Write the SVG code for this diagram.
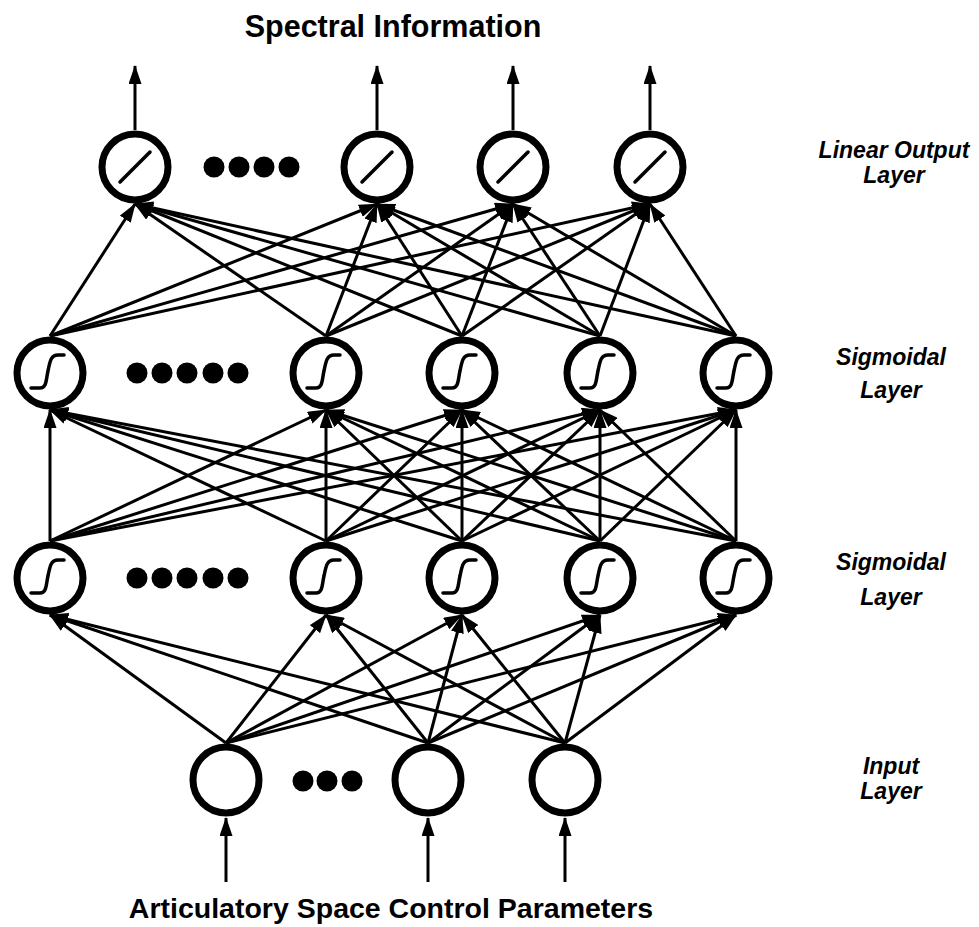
<svg xmlns="http://www.w3.org/2000/svg" width="979" height="927" viewBox="0 0 979 927">
  <style>
    .node { fill: #fff; stroke: #000; stroke-width: 7; }
    .glyph { fill: none; stroke: #000; stroke-width: 3.5; stroke-linecap: round; stroke-linejoin: round; }
    .dot { fill: #000; }
    .edge { stroke: #000; stroke-width: 3; fill: none; marker-end: url(#ah); }
    .title { font-family: "Liberation Sans", Arial, Helvetica, sans-serif; font-weight: bold; fill: #000; text-anchor: middle; }
    .layer { font-family: "Liberation Sans", Arial, Helvetica, sans-serif; font-weight: bold; font-style: italic; font-size: 23px; fill: #000; text-anchor: middle; }
  </style>
  <defs>
    <marker id="ah" markerWidth="19" markerHeight="13" refX="18" refY="6.5" orient="auto" markerUnits="userSpaceOnUse">
      <path d="M0,0 L19,6.5 L0,13 z" fill="#000"/>
    </marker>
    <!-- sigmoid transfer curve -->
    <path id="sig" class="glyph" d="M-19,15 L-10,15 C-3,15 -4,6 -2,-2 C0,-12 1,-18 8,-18 L14,-18"/>
    <!-- linear transfer line -->
    <path id="lin" class="glyph" d="M-15,15 L15,-15"/>
  </defs>

  <rect width="979" height="927" fill="#fff"/>

  <!-- captions -->
  <text class="title" x="393" y="37" font-size="30.5">Spectral Information</text>
  <text class="title" x="391" y="918" font-size="28.5">Articulatory Space Control Parameters</text>

  <g id="layer-labels">
    <text class="layer" x="894" y="158">Linear Output</text>
    <text class="layer" x="894" y="183">Layer</text>
    <text class="layer" x="891" y="365">Sigmoidal</text>
    <text class="layer" x="891" y="398">Layer</text>
    <text class="layer" x="891" y="570">Sigmoidal</text>
    <text class="layer" x="891" y="605">Layer</text>
    <text class="layer" x="891" y="774">Input</text>
    <text class="layer" x="891" y="799">Layer</text>
  </g>

  <!-- connectors -->
  <g id="connectors">
    <!-- outputs leaving the linear layer -->
    <line class="edge" x1="135" y1="130" x2="135" y2="66"/>
    <line class="edge" x1="377" y1="130" x2="377" y2="66"/>
    <line class="edge" x1="513" y1="130" x2="513" y2="66"/>
    <line class="edge" x1="650" y1="130" x2="650" y2="66"/>

    <!-- upper sigmoidal layer to linear output layer -->
    <line class="edge" x1="50" y1="336" x2="135" y2="204"/>
    <line class="edge" x1="50" y1="336" x2="377" y2="204"/>
    <line class="edge" x1="50" y1="336" x2="513" y2="204"/>
    <line class="edge" x1="50" y1="336" x2="650" y2="204"/>
    <line class="edge" x1="326" y1="336" x2="135" y2="204"/>
    <line class="edge" x1="326" y1="336" x2="377" y2="204"/>
    <line class="edge" x1="326" y1="336" x2="513" y2="204"/>
    <line class="edge" x1="326" y1="336" x2="650" y2="204"/>
    <line class="edge" x1="462" y1="336" x2="135" y2="204"/>
    <line class="edge" x1="462" y1="336" x2="377" y2="204"/>
    <line class="edge" x1="462" y1="336" x2="513" y2="204"/>
    <line class="edge" x1="462" y1="336" x2="650" y2="204"/>
    <line class="edge" x1="600" y1="336" x2="135" y2="204"/>
    <line class="edge" x1="600" y1="336" x2="377" y2="204"/>
    <line class="edge" x1="600" y1="336" x2="513" y2="204"/>
    <line class="edge" x1="600" y1="336" x2="650" y2="204"/>
    <line class="edge" x1="736" y1="336" x2="135" y2="204"/>
    <line class="edge" x1="736" y1="336" x2="377" y2="204"/>
    <line class="edge" x1="736" y1="336" x2="513" y2="204"/>
    <line class="edge" x1="736" y1="336" x2="650" y2="204"/>

    <!-- lower sigmoidal layer to upper sigmoidal layer -->
    <line class="edge" x1="50" y1="541" x2="50" y2="410"/>
    <line class="edge" x1="50" y1="541" x2="326" y2="410"/>
    <line class="edge" x1="50" y1="541" x2="462" y2="410"/>
    <line class="edge" x1="50" y1="541" x2="600" y2="410"/>
    <line class="edge" x1="50" y1="541" x2="736" y2="410"/>
    <line class="edge" x1="326" y1="541" x2="50" y2="410"/>
    <line class="edge" x1="326" y1="541" x2="326" y2="410"/>
    <line class="edge" x1="326" y1="541" x2="462" y2="410"/>
    <line class="edge" x1="326" y1="541" x2="600" y2="410"/>
    <line class="edge" x1="326" y1="541" x2="736" y2="410"/>
    <line class="edge" x1="462" y1="541" x2="50" y2="410"/>
    <line class="edge" x1="462" y1="541" x2="326" y2="410"/>
    <line class="edge" x1="462" y1="541" x2="462" y2="410"/>
    <line class="edge" x1="462" y1="541" x2="600" y2="410"/>
    <line class="edge" x1="462" y1="541" x2="736" y2="410"/>
    <line class="edge" x1="600" y1="541" x2="50" y2="410"/>
    <line class="edge" x1="600" y1="541" x2="326" y2="410"/>
    <line class="edge" x1="600" y1="541" x2="462" y2="410"/>
    <line class="edge" x1="600" y1="541" x2="600" y2="410"/>
    <line class="edge" x1="600" y1="541" x2="736" y2="410"/>
    <line class="edge" x1="736" y1="541" x2="50" y2="410"/>
    <line class="edge" x1="736" y1="541" x2="326" y2="410"/>
    <line class="edge" x1="736" y1="541" x2="462" y2="410"/>
    <line class="edge" x1="736" y1="541" x2="600" y2="410"/>
    <line class="edge" x1="736" y1="541" x2="736" y2="410"/>

    <!-- input layer to lower sigmoidal layer -->
    <line class="edge" x1="226" y1="743" x2="50" y2="615"/>
    <line class="edge" x1="226" y1="743" x2="326" y2="615"/>
    <line class="edge" x1="226" y1="743" x2="462" y2="615"/>
    <line class="edge" x1="226" y1="743" x2="600" y2="615"/>
    <line class="edge" x1="226" y1="743" x2="736" y2="615"/>
    <line class="edge" x1="428" y1="743" x2="50" y2="615"/>
    <line class="edge" x1="428" y1="743" x2="326" y2="615"/>
    <line class="edge" x1="428" y1="743" x2="462" y2="615"/>
    <line class="edge" x1="428" y1="743" x2="600" y2="615"/>
    <line class="edge" x1="428" y1="743" x2="736" y2="615"/>
    <line class="edge" x1="565" y1="743" x2="50" y2="615"/>
    <line class="edge" x1="565" y1="743" x2="326" y2="615"/>
    <line class="edge" x1="565" y1="743" x2="462" y2="615"/>
    <line class="edge" x1="565" y1="743" x2="600" y2="615"/>
    <line class="edge" x1="565" y1="743" x2="736" y2="615"/>

    <!-- external inputs -->
    <line class="edge" x1="226" y1="882" x2="226" y2="818"/>
    <line class="edge" x1="428" y1="882" x2="428" y2="818"/>
    <line class="edge" x1="565" y1="882" x2="565" y2="818"/>
  </g>

  <!-- linear output layer -->
  <g id="out1"><circle class="node" cx="135" cy="167" r="33"/><use href="#lin" x="135" y="167"/></g>
  <g id="out-dots">
    <circle class="dot" cx="214" cy="167" r="10.5"/>
    <circle class="dot" cx="239" cy="167" r="10.5"/>
    <circle class="dot" cx="264" cy="167" r="10.5"/>
    <circle class="dot" cx="289" cy="167" r="10.5"/>
  </g>
  <g id="out2"><circle class="node" cx="377" cy="167" r="33"/><use href="#lin" x="377" y="167"/></g>
  <g id="out3"><circle class="node" cx="513" cy="167" r="33"/><use href="#lin" x="513" y="167"/></g>
  <g id="out4"><circle class="node" cx="650" cy="167" r="33"/><use href="#lin" x="650" y="167"/></g>

  <!-- upper sigmoidal layer -->
  <g id="h1-1"><circle class="node" cx="50" cy="373" r="33"/><use href="#sig" x="50" y="373"/></g>
  <g id="h1-dots">
    <circle class="dot" cx="137" cy="373" r="10.5"/>
    <circle class="dot" cx="162" cy="373" r="10.5"/>
    <circle class="dot" cx="187" cy="373" r="10.5"/>
    <circle class="dot" cx="213" cy="373" r="10.5"/>
    <circle class="dot" cx="238" cy="373" r="10.5"/>
  </g>
  <g id="h1-2"><circle class="node" cx="326" cy="373" r="33"/><use href="#sig" x="326" y="373"/></g>
  <g id="h1-3"><circle class="node" cx="462" cy="373" r="33"/><use href="#sig" x="462" y="373"/></g>
  <g id="h1-4"><circle class="node" cx="600" cy="373" r="33"/><use href="#sig" x="600" y="373"/></g>
  <g id="h1-5"><circle class="node" cx="736" cy="373" r="33"/><use href="#sig" x="736" y="373"/></g>

  <!-- lower sigmoidal layer -->
  <g id="h2-1"><circle class="node" cx="50" cy="578" r="33"/><use href="#sig" x="50" y="578"/></g>
  <g id="h2-dots">
    <circle class="dot" cx="137" cy="578" r="10.5"/>
    <circle class="dot" cx="162" cy="578" r="10.5"/>
    <circle class="dot" cx="187" cy="578" r="10.5"/>
    <circle class="dot" cx="213" cy="578" r="10.5"/>
    <circle class="dot" cx="238" cy="578" r="10.5"/>
  </g>
  <g id="h2-2"><circle class="node" cx="326" cy="578" r="33"/><use href="#sig" x="326" y="578"/></g>
  <g id="h2-3"><circle class="node" cx="462" cy="578" r="33"/><use href="#sig" x="462" y="578"/></g>
  <g id="h2-4"><circle class="node" cx="600" cy="578" r="33"/><use href="#sig" x="600" y="578"/></g>
  <g id="h2-5"><circle class="node" cx="736" cy="578" r="33"/><use href="#sig" x="736" y="578"/></g>

  <!-- input layer -->
  <g id="in1"><circle class="node" cx="226" cy="780" r="33"/></g>
  <g id="in-dots">
    <circle class="dot" cx="303" cy="781" r="10.5"/>
    <circle class="dot" cx="327" cy="781" r="10.5"/>
    <circle class="dot" cx="352" cy="781" r="10.5"/>
  </g>
  <g id="in2"><circle class="node" cx="428" cy="780" r="33"/></g>
  <g id="in3"><circle class="node" cx="565" cy="780" r="33"/></g>
</svg>
